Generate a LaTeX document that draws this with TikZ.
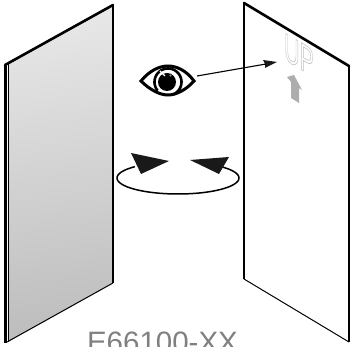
\documentclass[tikz,border=0pt]{standalone}
\usepackage{fontspec}
\setmainfont{Liberation Sans}
\begin{document}
\begin{tikzpicture}[x=1pt,y=-1pt,
  edge/.style={line width=2.6pt,black,line cap=round,line join=round},
  thin edge/.style={line width=1pt,black},
  solid head/.style={fill=black!90,draw=none}]
\useasboundingbox (0,0) rectangle (351,347);
\clip (0,0) rectangle (351,347);
% left panel
\begin{scope}
\clip (8,64) -- (113,5) -- (113,283) -- (8,342) -- cycle;
\shade[top color=black!9,bottom color=black!26,shading angle=8] (-20,0) rectangle (140,347);
\end{scope}
\draw[line width=2.6pt] (5.2,65) -- (5.2,343);
\draw[line width=1.4pt] (8.6,64) -- (8.6,342);
\draw[line width=2.4pt] (113,5) -- (113,283);
\draw[edge] (5,65) -- (113,5);
\draw[thin edge] (7,342) -- (113,283);
% right panel
\draw[line width=2pt] (244,3) -- (244,279);
\draw[line width=2.6pt] (349,66) -- (349,342);
\draw[edge] (244,3) -- (349,66);
\draw[thin edge] (244,279) -- (349,342);
% UP
\node (up) at (299,55) [cm={0.55,-0.33,0,1,(0,0)},inner sep=0pt,font=\fontsize{39}{39}\selectfont,text=white] {\special{pdf:code 1 Tr 0.7 w 0.76 G}UP\special{pdf:code 0 Tr}};
% grey arrow
\fill[black!32] (287,77) -- (294,75) -- (302,90) -- (299,88) -- (299,103) -- (291,98) -- (291,82) -- cycle;
% eye
\draw[line width=3pt,line join=miter] (141,81) .. controls (150,70) and (160,66) .. (168,66) .. controls (176,66) and (186,70) .. (194,81) .. controls (186,90) and (176,95) .. (168,95) .. controls (160,95) and (150,90) .. cycle;
\draw[line width=2.6pt] plot[domain=-220:65,samples=50] ({168+13.5*cos(\x)},{82+13.5*sin(\x)});
\fill (167,82) circle[radius=9];
\draw[white,line width=1.3pt] (160,71) -- (165,76);
\fill[black!45] (170.5,75.5) circle[radius=1.2];
% pointer
\coordinate (eyeside) at (197,76);
\coordinate (target) at (277,62);
\fill[black!90] (target) -- (263,60) -- (265,64) -- (265,68) -- cycle;
\draw[line width=1.1pt] (eyeside) -- (266,64);
% rotation
\draw[line width=1.5pt] plot[domain=135:405,samples=80] ({178+61*cos(\x)},{178+16*sin(-\x)});
\fill[solid head] (169,161) -- (131,153) -- (141,174) -- cycle;
\fill[solid head] (190,160) -- (229,157) -- (219,174) -- cycle;
% label
\node (label) at (162.5,353) [anchor=base,inner sep=0pt,text=black!50,font=\fontsize{29.5}{30}\selectfont] {E66100-XX};
\end{tikzpicture}
\end{document}
